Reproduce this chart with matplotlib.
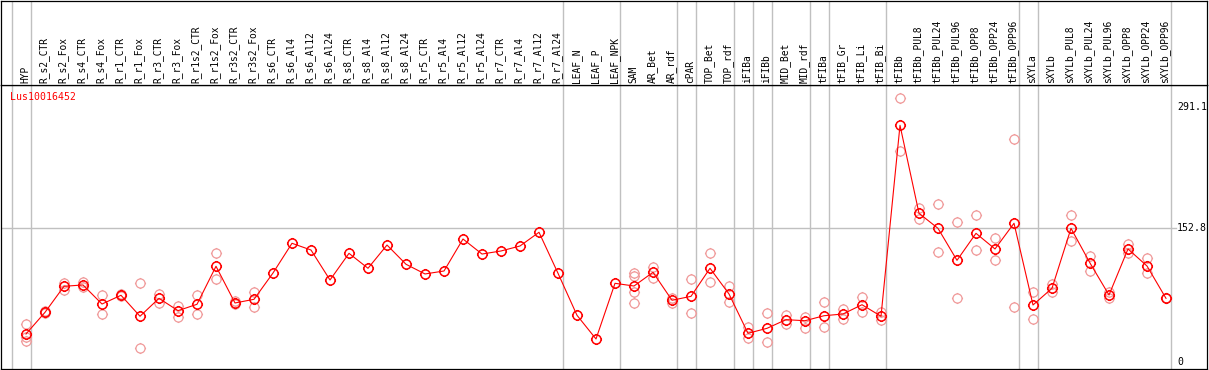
import numpy as np
import matplotlib
matplotlib.use('Agg')
import matplotlib.pyplot as plt
from matplotlib.path import Path

# Данные
gene = 'Lus10016452'
samples = ['HYP', 'R_s2_CTR', 'R_s2_Fox', 'R_s4_CTR', 'R_s4_Fox', 'R_r1_CTR', 'R_r1_Fox',
           'R_r3_CTR', 'R_r3_Fox', 'R_r1s2_CTR', 'R_r1s2_Fox', 'R_r3s2_CTR', 'R_r3s2_Fox',
           'R_s6_CTR', 'R_s6_Al4', 'R_s6_Al12', 'R_s6_Al24', 'R_s8_CTR', 'R_s8_Al4',
           'R_s8_Al12', 'R_s8_Al24', 'R_r5_CTR', 'R_r5_Al4', 'R_r5_Al12', 'R_r5_Al24',
           'R_r7_CTR', 'R_r7_Al4', 'R_r7_Al12', 'R_r7_Al24', 'LEAF_N', 'LEAF_P', 'LEAF_NPK',
           'SAM', 'AR_Bet', 'AR_rdf', 'cPAR', 'TOP_Bet', 'TOP_rdf', 'iFIBa', 'iFIBb',
           'MID_Bet', 'MID_rdf', 'tFIBa', 'tFIB_Gr', 'tFIB_Li', 'tFIB_Bi', 'tFIBb',
           'tFIBb_PUL8', 'tFIBb_PUL24', 'tFIBb_PUL96', 'tFIBb_OPP8', 'tFIBb_OPP24',
           'tFIBb_OPP96', 'sXYLa', 'sXYLb', 'sXYLb_PUL8', 'sXYLb_PUL24', 'sXYLb_PUL96',
           'sXYLb_OPP8', 'sXYLb_OPP24', 'sXYLb_OPP96']

means = [31.7, 56.5, 86.3, 87.8, 66.0, 76.0, 52.0, 72.5, 58.4, 65.7, 109.2, 67.2, 71.4,
         101.5, 135.5, 127.8, 93.5, 124.0, 106.9, 133.5, 111.5, 100.4, 103.8, 140.4,
         123.2, 126.7, 132.4, 148.1, 101.2, 53.1, 26.0, 89.7,
         86.6, 102.3, 70.3, 74.8, 106.9, 77.5, 32.5, 38.2, 48.1, 46.9, 52.6, 54.6, 65.2,
         52.0, 270.5, 169.8, 152.6, 116.0, 146.9, 129.0, 158.4, 64.9, 84.0, 152.6, 112.9,
         76.3, 129.0, 109.5, 72.5]

reps = [[43.1, 28.0, 24.0], [57.5, 55.5], [90.1, 82.0], [90.9, 85.8], [76.0, 54.2],
        [77.1, 75.0], [90.1, 15.3], [77.1, 67.5], [63.7, 50.8], [76.0, 54.2],
        [124.0, 95.0], [69.5, 65.7], [79.4, 62.6],
        [], [], [], [], [], [], [], [], [], [], [], [], [], [], [], [], [], [], [],
        [101.2, 98.4, 80.1, 66.8], [108.7, 96.1], [72.5, 66.8], [94.3, 55.4],
        [124.0, 90.9], [86.6, 68.0], [40.1, 26.8], [55.4, 22.2], [53.4, 43.1],
        [51.5, 38.9], [68.0, 40.1], [60.0, 48.5], [74.0, 57.2], [56.5, 47.7],
        [301.4, 240.8], [176.2, 162.9], [180.1, 125.2], [159.5, 72.5], [167.9, 127.5],
        [141.2, 116.0], [254.5, 62.2], [79.4, 48.9], [88.9, 79.4], [167.5, 137.8],
        [121.3, 104.1], [72.5, 80.1], [134.3, 124.0], [118.3, 101.2], [72.5, 72.5]]

# индексы после которых идёт разделитель групп
group_ends = [-1, 0, 28, 31, 34, 35, 37, 38, 39, 41, 42, 45, 52, 53, 60]
y_ticks = [0, 152.8, 291.1]

# Маркер: окружность с засечками
circ = Path.unit_circle()
ticks = [Path([[0, 1], [0, 1.22]]), Path([[0, -1], [0, -1.22]]),
         Path([[1, 0], [1.22, 0]]), Path([[-1, 0], [-1.22, 0]])]
gear = Path.make_compound_path(circ, *ticks)

W, H = 1209, 370
fig = plt.figure(figsize=(W / 100, H / 100), dpi=100)
mono = 'DejaVu Sans Mono'

# пиксели -> данные
def px2x(px):
    return (px - 26) / 19.0

def py2v(py):
    return (361.7 - py) / 0.8739

x0, x1 = 1, 1207
ax = fig.add_axes([x0 / W, 1 / H, (x1 - x0) / W, (369 - 85) / H])
hd = fig.add_axes([x0 / W, 285 / H, (x1 - x0) / W, 84.5 / H])

xlim = (px2x(x0), px2x(x1))
ax.set_xlim(xlim)
ax.set_ylim(py2v(369), py2v(85))
hd.set_xlim(xlim)
hd.set_ylim(0, 84.5)

for a in (ax, hd):
    a.set_xticks([])
    a.set_yticks([])
    for s in a.spines.values():
        s.set_color('black')
        s.set_linewidth(0.9)
    for g in group_ends:
        a.axvline(g + 0.25, color='#c0c0c0', lw=1.0, zorder=0)

ax.plot([xlim[0], px2x(1176)], [152.8, 152.8], color='#c0c0c0', lw=1.0, zorder=0)

x = np.arange(len(samples))
for i, r in enumerate(reps):
    if r:
        ax.plot([i] * len(r), r, linestyle='none', marker=gear, ms=8.0,
                mfc='none', mec='#f09a9a', mew=0.9, zorder=1)
ax.plot(x, means, color='#ff0000', lw=0.8, zorder=2)
ax.plot(x, means, linestyle='none', marker=gear, ms=8.0, mfc='none',
        mec='#ff0000', mew=1.1, zorder=3)

for i, name in enumerate(samples):
    hd.text(i - 0.05, 2, name, rotation=90, ha='center', va='bottom',
            fontsize=6.9, family=mono, color='black')

ax.text(px2x(9.5), py2v(97), gene, color='#ff0000', fontsize=7.1, family=mono,
        ha='left', va='center')
for v in y_ticks:
    ax.text(px2x(1177), v, f'{v:g}', fontsize=7.1, family=mono, ha='left',
            va='center', color='black')

fig.savefig('out.png', dpi=100)
